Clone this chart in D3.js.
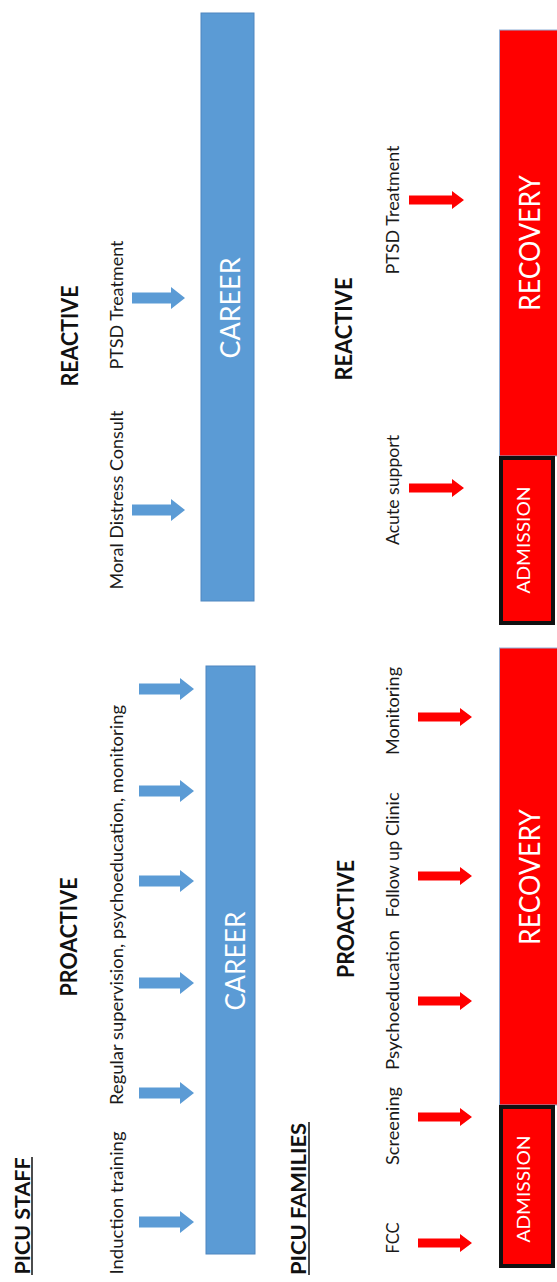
<!DOCTYPE html>
<html>
<head>
<meta charset="utf-8">
<script src="https://cdn.jsdelivr.net/npm/d3@7"></script>
<style>
  html, body { margin: 0; padding: 0; background: #fff; }
  svg { display: block; }
  text { font-family: Lato, "Open Sans", sans-serif; }
</style>
</head>
<body>
<div id="chart"></div>
<script>
// ---------- DATA ----------
const groups = ["PICU STAFF", "PICU FAMILIES"];
const phases = ["REACTIVE", "PROACTIVE"];
const staffTimeline = ["CAREER", "CAREER"];
const familyTimeline = ["RECOVERY", "RECOVERY"];
const familyStart = "ADMISSION";

// staff, reactive (timeline positions, top = 0)
const staffReactiveLabels = ["Moral Distress Consult", "PTSD Treatment"];
const staffReactiveArrows = [510, 298];
const staffReactiveLabelPos = [500, 305];
// staff, proactive
const staffProactiveLabels = ["Induction training", "Regular supervision, psychoeducation, monitoring"];
const staffProactiveArrows = [1222, 1093, 983, 881, 791, 689];
const staffProactiveLabelPos = [1203, 905];
// families, reactive
const familyReactiveLabels = ["Acute support", "PTSD Treatment"];
const familyReactiveArrows = [488, 200];
const familyReactiveLabelPos = [490, 210];
// families, proactive
const familyProactiveLabels = ["FCC", "Screening", "Psychoeducation", "Follow up Clinic", "Monitoring"];
const familyProactiveArrows = [1243, 1117, 1001, 876, 717];
const familyProactiveLabelPos = [1238, 1126, 1000, 855, 711];
// timeline spans
const staffReactiveSpan = [13, 601];
const staffProactiveSpan = [666, 1254];
const familyReactiveSpan = [30, 456, 625];   // bar top, admission top, admission bottom
const familyProactiveSpan = [648, 1105, 1268];

// ---------- DRAW ----------
const W = 557, H = 1282;
const svg = d3.select("#chart").append("svg").attr("width", W).attr("height", H);
const y = d3.scaleLinear().domain([0, H]).range([0, H]);

const BLUE = "#5B9BD5", BLUE_EDGE = "#4F86BF", RED = "#FF0000", RED_EDGE = "#8FB0D8";

const textLen = {
  "Moral Distress Consult": 179, "PTSD Treatment": 129, "Induction training": 143,
  "Regular supervision, psychoeducation, monitoring": 400, "Acute support": 110,
  "FCC": 31, "Screening": 78, "Psychoeducation": 140, "Follow up Clinic": 125, "Monitoring": 88
};

function vtext(x, yy, str, o) {
  const t = svg.append("text")
    .attr("transform", `translate(${x},${yy}) rotate(-90)`)
    .attr("text-anchor", "middle")
    .attr("dominant-baseline", "central")
    .attr("font-size", o.size)
    .attr("font-weight", o.weight || "normal")
    .attr("fill", o.fill || "#111")
    .text(str);
  if (o.len) t.attr("textLength", o.len).attr("lengthAdjust", "spacingAndGlyphs");
  return t;
}

function arrowPath(x0, x1, cy, s, h, L) {
  return `M${x0},${cy - s}L${x1 - L},${cy - s}L${x1 - L},${cy - h}L${x1},${cy}L${x1 - L},${cy + h}L${x1 - L},${cy + s}L${x0},${cy + s}Z`;
}

function arrows(data, x0, x1, s, h, L, fill) {
  svg.append("g").selectAll("path").data(data).join("path")
    .attr("d", d => arrowPath(x0, x1, y(d), s, h, L))
    .attr("fill", fill);
}

function labels(names, pos, x) {
  names.forEach((n, i) => vtext(x, y(pos[i]), n, { size: 17, len: textLen[n], fill: "#1a1a1a" }));
}

// ----- STAFF -----
svg.append("rect").attr("x", 201).attr("width", 53)
  .attr("y", y(staffReactiveSpan[0])).attr("height", y(staffReactiveSpan[1]) - y(staffReactiveSpan[0]))
  .attr("fill", BLUE).attr("stroke", BLUE_EDGE).attr("stroke-width", 1);
vtext(229, y(308), staffTimeline[0], { size: 27, fill: "#fff", len: 101 });
svg.append("rect").attr("x", 206).attr("width", 49)
  .attr("y", y(staffProactiveSpan[0])).attr("height", y(staffProactiveSpan[1]) - y(staffProactiveSpan[0]))
  .attr("fill", BLUE).attr("stroke", BLUE_EDGE).attr("stroke-width", 1);
vtext(234, y(961), staffTimeline[1], { size: 27, fill: "#fff", len: 99 });

arrows(staffReactiveArrows, 132, 185, 5.5, 11, 14, BLUE);
arrows(staffProactiveArrows, 139, 194, 5.5, 11, 14, BLUE);
labels(staffReactiveLabels, staffReactiveLabelPos, 116.5);
labels(staffProactiveLabels, staffProactiveLabelPos, 116.5);

vtext(69, y(336), phases[0], { size: 22, weight: "bold", len: 101 });
vtext(68, y(937), phases[1], { size: 22, weight: "bold", len: 119 });

vtext(21.5, y(1216), groups[0], { size: 20, weight: "bold", len: 117 });
svg.append("line").attr("x1", 32).attr("x2", 32).attr("y1", y(1157)).attr("y2", y(1275))
  .attr("stroke", "#111").attr("stroke-width", 1.5);
vtext(298, y(1199), groups[1], { size: 20, weight: "bold", len: 152 });
svg.append("line").attr("x1", 309).attr("x2", 309).attr("y1", y(1122)).attr("y2", y(1275))
  .attr("stroke", "#111").attr("stroke-width", 1.5);

// ----- FAMILIES -----
function familyPanel(span, recText, recPos, admPos) {
  svg.append("rect").attr("x", 499.5).attr("width", 60)
    .attr("y", y(span[0])).attr("height", y(span[1]) - y(span[0]))
    .attr("fill", RED).attr("stroke", RED_EDGE).attr("stroke-width", 1);
  svg.append("rect").attr("x", 501).attr("width", 52)
    .attr("y", y(span[1]) + 2).attr("height", y(span[2]) - y(span[1]) - 4)
    .attr("fill", RED).attr("stroke", "#111").attr("stroke-width", 4);
  vtext(529, y(recPos), recText, { size: 28, fill: "#fff", len: 136 });
  vtext(523, y(admPos), familyStart, { size: 17, fill: "#fff", len: 107 });
}
familyPanel(familyReactiveSpan, familyTimeline[0], 243, 540);
familyPanel(familyProactiveSpan, familyTimeline[1], 877, 1189);

arrows(familyReactiveArrows, 409, 464, 4.5, 9, 12, RED);
arrows(familyProactiveArrows, 418, 472, 4.5, 9, 12, RED);
labels(familyReactiveLabels, familyReactiveLabelPos, 392);
labels(familyProactiveLabels, familyProactiveLabelPos, 392);

vtext(343, y(329), phases[0], { size: 22, weight: "bold", len: 103 });
vtext(345, y(919), phases[1], { size: 22, weight: "bold", len: 118 });
</script>
</body>
</html>
